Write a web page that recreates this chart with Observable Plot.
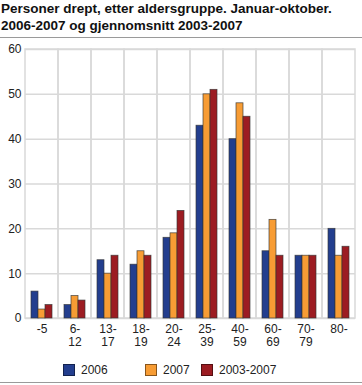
<!DOCTYPE html>
<html>
<head>
<meta charset="utf-8">
<script src="https://cdn.jsdelivr.net/npm/d3@7"></script>
<script src="https://cdn.jsdelivr.net/npm/@observablehq/plot@0.6"></script>
<style>
  html, body { margin: 0; padding: 0; background: #fff; }
  body { width: 362px; height: 385px; position: relative; overflow: hidden; font-family: "Liberation Sans", Arial, sans-serif; color: #222; }
  #title { position: absolute; left: 1px; top: 0; font-weight: bold; font-size: 13.5px; line-height: 17px; color: #111; white-space: nowrap; }
  .rule { position: absolute; left: 0; width: 362px; height: 0; border-top: 1px solid #9a9a9a; }
  #chart { position: absolute; left: 0; top: 38px; }
  .sw { position: absolute; width: 12px; height: 12px; top: 364px; box-sizing: border-box; border: 1px solid rgba(0,0,0,0.45); }
  .lab { position: absolute; top: 363px; font-size: 12px; line-height: 14px; color: #222; }
</style>
</head>
<body>
<div id="title">Personer drept, etter aldersgruppe. Januar-oktober.<br>2006-2007 og gjennomsnitt 2003-2007</div>
<div class="rule" style="top:37px"></div>
<div id="chart"></div>
<div id="legend"></div>
<div class="rule" style="top:382px"></div>
<script>
const categories = ["-5", "6-12", "13-17", "18-19", "20-24", "25-39", "40-59", "60-69", "70-79", "80-"];
const tickLabels = ["-5", "6-\n12", "13-\n17", "18-\n19", "20-\n24", "25-\n39", "40-\n59", "60-\n69", "70-\n79", "80-"];
const seriesNames = ["2006", "2007", "2003-2007"];
const values2006 = [6, 3, 13, 12, 18, 43, 40, 15, 14, 20];
const values2007 = [2, 5, 10, 15, 19, 50, 48, 22, 14, 14];
const values2003_2007 = [3, 4, 14, 14, 24, 51, 45, 14, 14, 16];
const colors = ["#233e8e", "#f79c34", "#9c1c22"];
const yTicks = [0, 10, 20, 30, 40, 50, 60];

const seriesValues = [values2006, values2007, values2003_2007];
const data = [];
categories.forEach((c, i) => {
  seriesNames.forEach((s, j) => data.push({category: c, series: s, value: seriesValues[j][i]}));
});

const plot = Plot.plot({
  width: 362,
  height: 322,
  marginTop: 11,
  marginBottom: 42,
  marginLeft: 22,
  marginRight: 4,
  style: {fontFamily: "Liberation Sans, Arial, sans-serif", fontSize: "12px", color: "#222", background: "#fff"},
  fx: {domain: categories, padding: 0, label: null},
  x: {domain: seriesNames, paddingInner: 0, paddingOuter: 0.6, axis: null},
  y: {domain: [0, 60], ticks: yTicks, label: null},
  color: {domain: seriesNames, range: colors},
  marks: [
    Plot.gridY(yTicks, {stroke: "#d9d9d9", strokeOpacity: 1, strokeWidth: 1.5}),
    Plot.rect(categories, {fx: (d) => d, fill: "none", stroke: "#d9d9d9", strokeWidth: 1.5}),
    Plot.barY(data, {fx: "category", x: "series", y: "value", fill: "series", stroke: "#333", strokeWidth: 0.8, strokeOpacity: 0.8}),
    Plot.axisY(yTicks, {tickSize: 0, tickPadding: 4, label: null, fontSize: 12, fill: "#222"}),
    Plot.axisFx({anchor: "bottom", tickSize: 0, tickPadding: 6, label: null, fontSize: 12, lineHeight: 1.05, fill: "#222",
      tickFormat: (d) => tickLabels[categories.indexOf(d)]})
  ]
});
document.getElementById("chart").appendChild(plot);

const color = plot.scale("color");
const legend = document.getElementById("legend");
const swX = [63, 145, 201];
seriesNames.forEach((s, j) => {
  const sw = document.createElement("div");
  sw.className = "sw";
  sw.style.left = swX[j] + "px";
  sw.style.background = color.apply(s);
  legend.appendChild(sw);
  const lab = document.createElement("div");
  lab.className = "lab";
  lab.style.left = (swX[j] + 18) + "px";
  lab.textContent = s;
  legend.appendChild(lab);
});
</script>
</body>
</html>
